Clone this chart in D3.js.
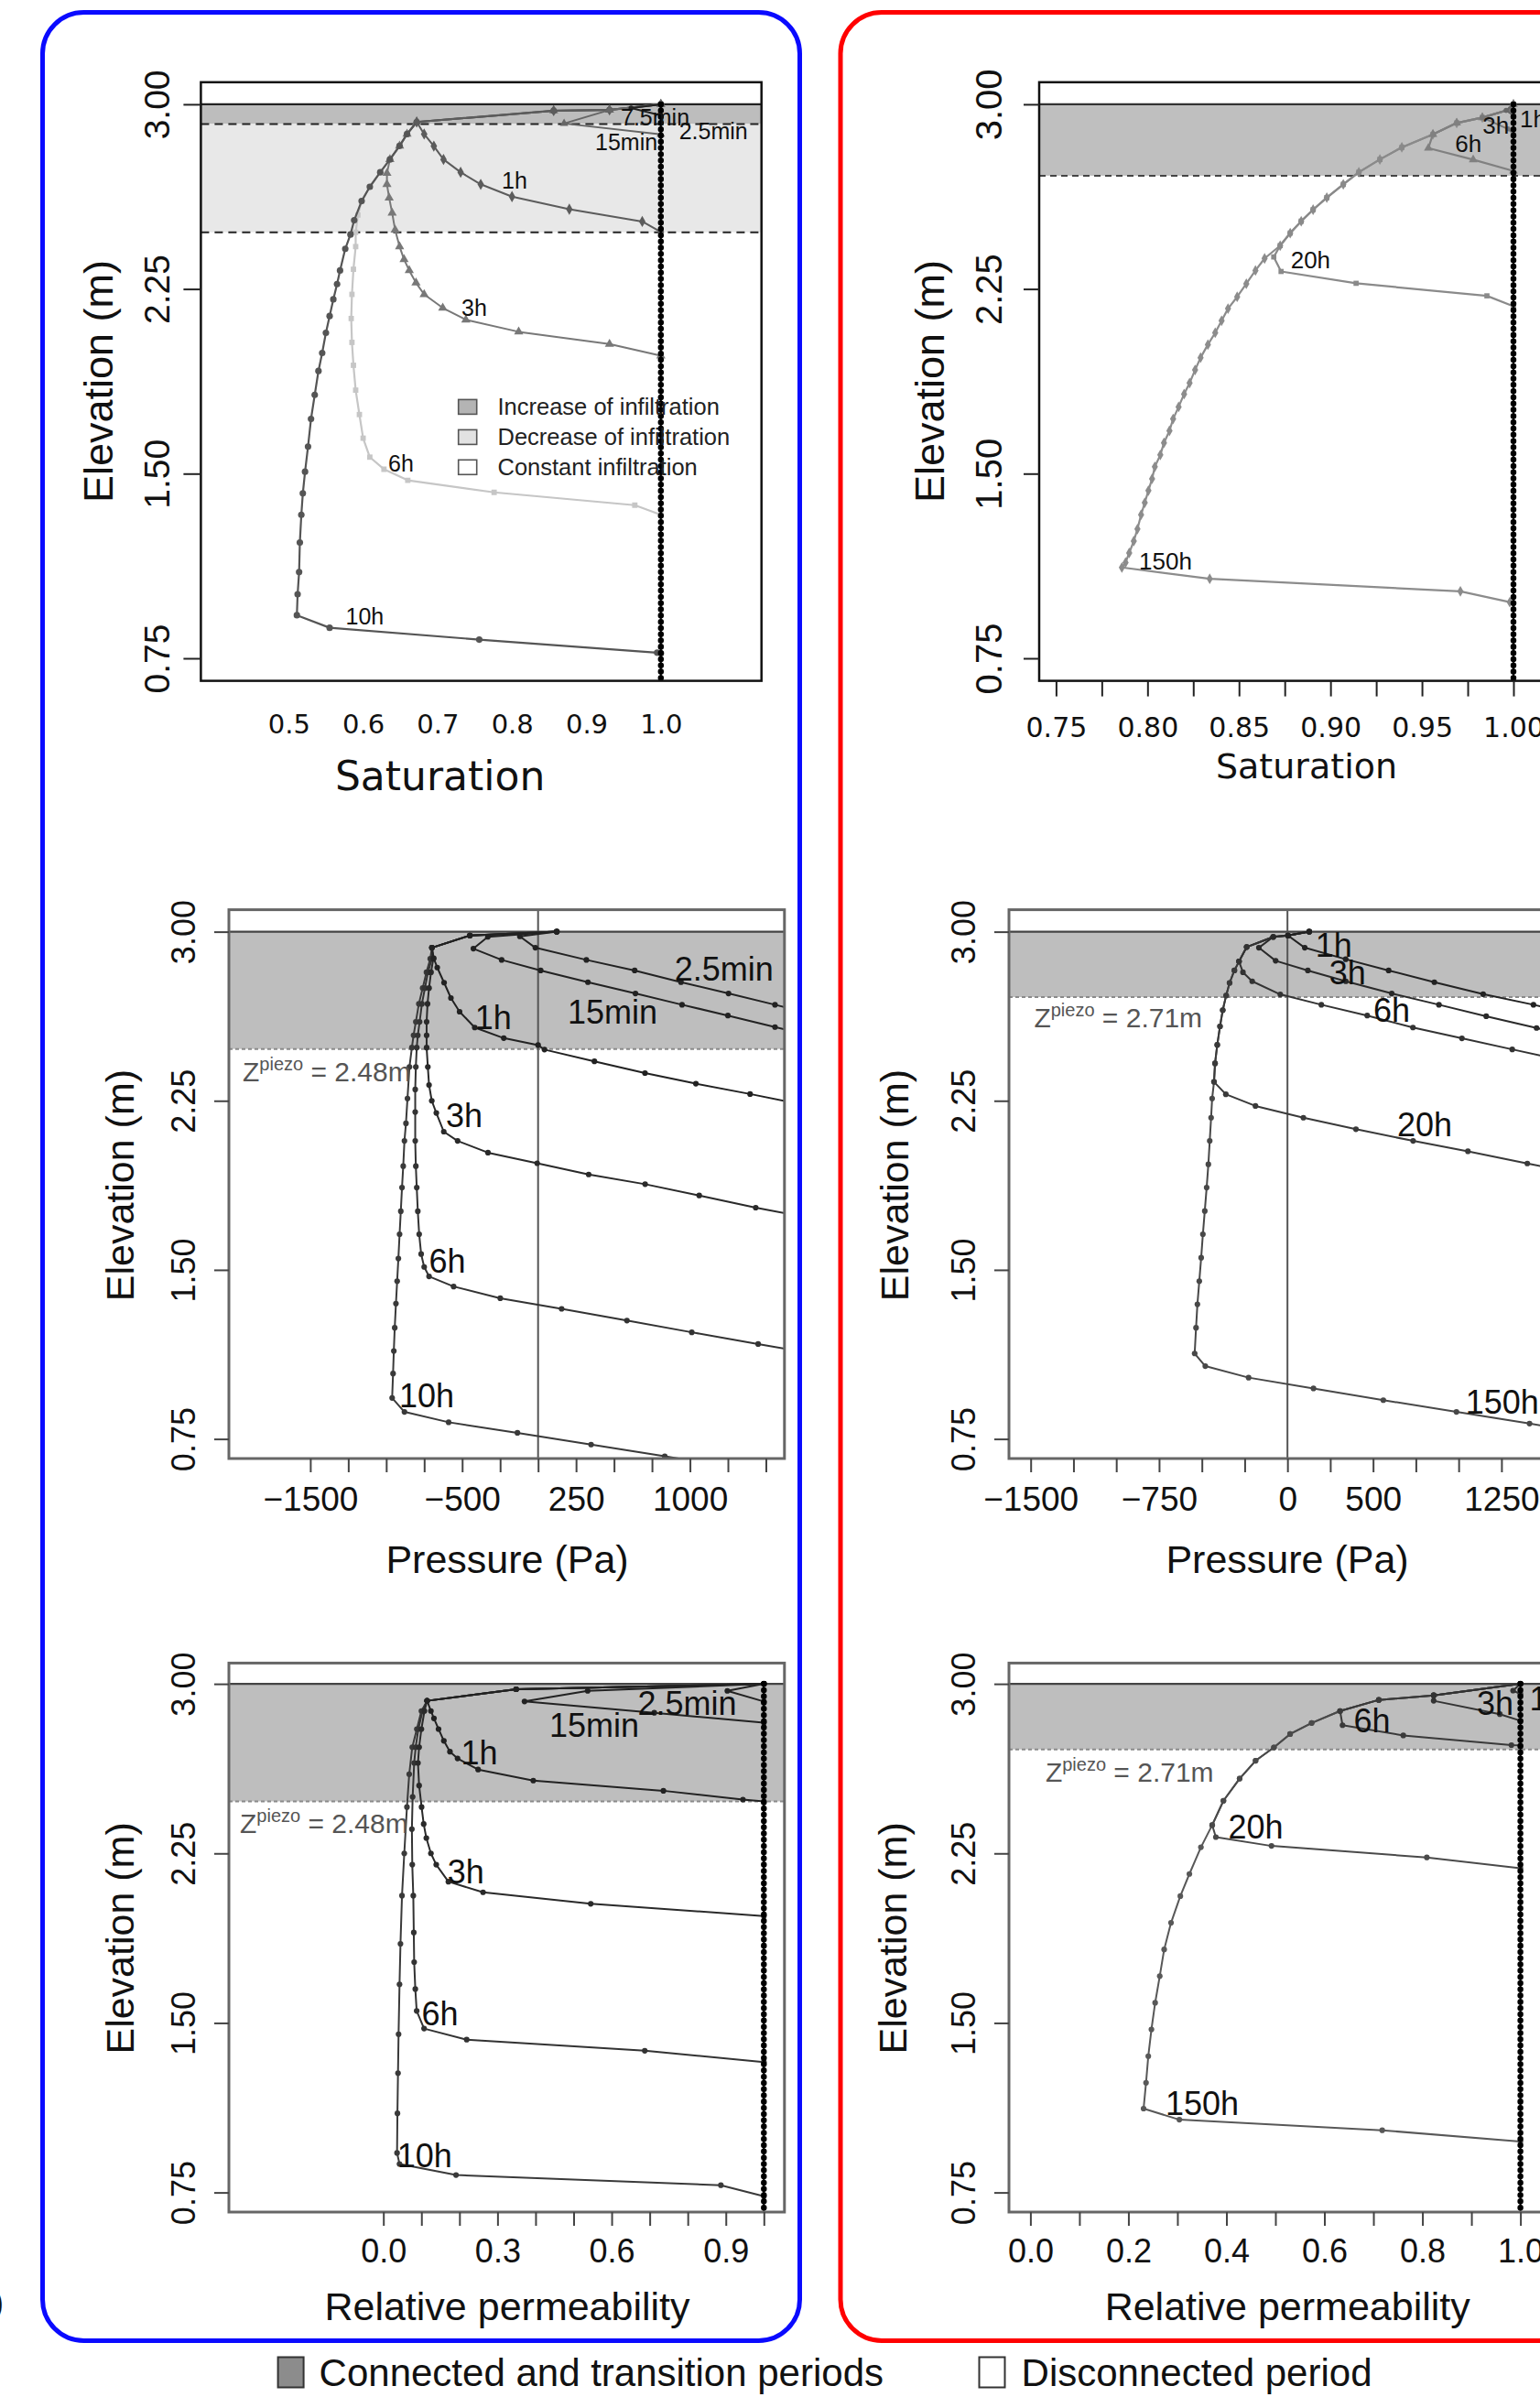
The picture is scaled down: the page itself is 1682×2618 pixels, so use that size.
<!DOCTYPE html>
<html><head><meta charset="utf-8">
<script src="https://cdn.jsdelivr.net/npm/d3@7"></script>
<style>body{margin:0;background:#fff} svg{display:block}</style>
</head><body>
<svg id="fig" width="1682" height="2618"></svg>
<script>
// ---------------- DATA ----------------
const ELEV_TICKS = [0.75, 1.50, 2.25, 3.00];
const SURFACE = 3.00;
const SAT_TRANSITION = 2.92;
const PIEZO_C = 2.48;
const PIEZO_D = 2.71;

const SAT_C_TICKS = [0.5, 0.6, 0.7, 0.8, 0.9, 1.0];
const SAT_C_LABELS = [0.5, 0.6, 0.7, 0.8, 0.9, 1.0];
const SAT_D_TICKS = [0.75, 0.775, 0.8, 0.825, 0.85, 0.875, 0.9, 0.925, 0.95, 0.975, 1.0];
const SAT_D_LABELS = [0.75, 0.8, 0.85, 0.9, 0.95, 1.0];
const P_TICKS = [-1500, -1250, -1000, -750, -500, -250, 0, 250, 500, 750, 1000, 1250, 1500];
const P_C_LABELS = [-1500, -500, 250, 1000];
const P_D_LABELS = [-1500, -750, 0, 500, 1250];
const KR_TICKS = [0, 0.1, 0.2, 0.3, 0.4, 0.5, 0.6, 0.7, 0.8, 0.9, 1.0];
const KR_C_LABELS = [0, 0.3, 0.6, 0.9];
const KR_D_LABELS = [0, 0.2, 0.4, 0.6, 0.8, 1.0];

const INIT_PROFILE = [[1.0, 3.0], [1.0, 0.65]];

// Saturation, connected
const satC_2_5min = [[1.0,3.0],[0.96,2.985],[1.0,2.955]];
const satC_7_5min = [[1.0,3.0],[0.931,2.977],[0.870,2.922],[1.0,2.878]];
const satC_top = [[1.0,3.0],[0.931,2.977],[0.856,2.974],[0.672,2.928]];
const satC_1h = [...satC_top,[0.682,2.879],[0.695,2.83],[0.708,2.776],[0.731,2.724],[0.758,2.675],[0.800,2.625],[0.877,2.574],[0.975,2.524],[1.0,2.481]];
const satC_3h = [...satC_top,[0.659,2.879],[0.649,2.831],[0.636,2.776],[0.632,2.72],[0.632,2.675],[0.635,2.62],[0.639,2.559],[0.643,2.49],[0.649,2.422],[0.655,2.37],[0.662,2.325],[0.671,2.275],[0.682,2.228],[0.707,2.173],[0.738,2.125],[0.809,2.076],[0.931,2.026],[1.0,1.979]];
const satC_6h = [...satC_top,[0.659,2.879],[0.649,2.831],[0.636,2.776],[0.623,2.724],[0.609,2.665],[0.598,2.607],[0.593,2.55],[0.590,2.48],[0.590,2.422],[0.587,2.33],[0.585,2.228],[0.584,2.13],[0.585,2.033],[0.587,1.94],[0.590,1.839],[0.595,1.74],[0.600,1.644],[0.609,1.567],[0.628,1.518],[0.660,1.473],[0.776,1.424],[0.965,1.372],[1.0,1.333]];
const satC_10h = [...satC_top,[0.659,2.879],[0.649,2.831],[0.636,2.776],[0.623,2.724],[0.609,2.665],[0.598,2.607],[0.588,2.529],[0.583,2.471],[0.576,2.413],[0.569,2.325],[0.565,2.27],[0.560,2.208],[0.555,2.14],[0.550,2.072],[0.545,1.99],[0.540,1.917],[0.535,1.82],[0.530,1.722],[0.526,1.61],[0.522,1.508],[0.519,1.42],[0.517,1.333],[0.515,1.22],[0.514,1.100],[0.512,1.01],[0.511,0.925],[0.555,0.874],[0.756,0.826],[0.995,0.773],[1.0,0.77]];

// Saturation, disconnected
const satD_top = [[1.0,3.0],[0.9985,2.98],[0.983,2.946],[0.969,2.924],[0.956,2.878]];
const satD_mid = [[0.939,2.825],[0.927,2.776],[0.9155,2.724],[0.907,2.675],[0.898,2.621],[0.8905,2.572],[0.884,2.525],[0.878,2.477],[0.8725,2.426]];
const satD_low = [[0.864,2.374],[0.859,2.325],[0.854,2.271],[0.849,2.218],[0.844,2.170],[0.8405,2.121],[0.837,2.072],[0.833,2.024],[0.829,1.971],[0.826,1.921],[0.823,1.868],[0.820,1.823],[0.817,1.771],[0.814,1.722],[0.812,1.674],[0.809,1.625],[0.807,1.576],[0.804,1.528],[0.8025,1.479],[0.8005,1.431],[0.7985,1.382],[0.7965,1.333],[0.7945,1.275],[0.7925,1.226],[0.790,1.178],[0.788,1.139],[0.786,1.119]];
const satD_1h = [[1.0,3.0],[0.996,2.975],[1.0,2.955]];
const satD_3h = [[1.0,3.0],[0.9985,2.98],[0.983,2.946],[0.997,2.90],[1.0,2.88]];
const satD_6h = [...satD_top,[0.9535,2.822],[0.978,2.775],[1.0,2.729]];
const satD_20h = [...satD_top,...satD_mid,[0.869,2.38],[0.873,2.321],[0.914,2.273],[0.9855,2.222],[1.0,2.18]];
const satD_150h = [...satD_top,...satD_mid,...satD_low,[0.834,1.073],[0.971,1.022],[0.998,0.978],[1.0,0.974]];

// Pressure, connected
const presC_top = [[123,3.0],[-449,2.983],[-699,2.929]];
const presC_2_5min = [[123,3.0],[-120,2.979],[-18,2.929],[318,2.875],[636,2.828],[941,2.776],[1254,2.726],[1560,2.676],[1750,2.645]];
const presC_15min = [[123,3.0],[-331,2.977],[-426,2.925],[-240,2.875],[17,2.828],[328,2.776],[641,2.726],[948,2.676],[1250,2.628],[1560,2.577],[1750,2.546]];
const presC_1h = [...presC_top,[-687,2.882],[-664,2.841],[-619,2.774],[-574,2.706],[-517,2.645],[-417,2.575],[-226,2.528],[0,2.497],[42,2.477],[371,2.425],[704,2.373],[1039,2.326],[1396,2.280],[1750,2.232]];
const presC_3h = [...presC_top,[-690,2.88],[-705,2.82],[-718,2.75],[-728,2.68],[-734,2.60],[-734,2.54],[-734,2.486],[-726,2.40],[-718,2.320],[-700,2.25],[-670,2.196],[-621,2.113],[-530,2.072],[-330,2.020],[-6,1.973],[333,1.923],[705,1.880],[1061,1.830],[1433,1.776],[1750,1.735]];
const presC_6h = [...presC_top,[-700,2.88],[-725,2.82],[-745,2.75],[-765,2.68],[-780,2.60],[-792,2.54],[-799,2.486],[-805,2.40],[-809,2.30],[-809,2.20],[-809,2.072],[-805,1.96],[-799,1.865],[-792,1.76],[-783,1.658],[-770,1.57],[-750,1.513],[-718,1.471],[-556,1.426],[-249,1.374],[155,1.327],[585,1.275],[1012,1.223],[1449,1.171],[1750,1.135]];
const presC_10h = [...presC_top,[-710,2.88],[-735,2.82],[-760,2.75],[-785,2.68],[-805,2.60],[-820,2.54],[-831,2.486],[-847,2.40],[-860,2.26],[-870,2.15],[-880,2.072],[-888,1.96],[-896,1.865],[-904,1.76],[-912,1.658],[-920,1.55],[-928,1.45],[-936,1.35],[-944,1.243],[-950,1.14],[-955,1.04],[-961,0.932],[-880,0.870],[-589,0.824],[-136,0.777],[349,0.725],[834,0.673],[1000,0.655]];

// Pressure, disconnected
const presD_top = [[127,3.0],[3,2.983],[-83,2.977]];
const presD_env1 = [[-238,2.932],[-283,2.868]];
const presD_env2 = [[-310,2.828],[-338,2.773],[-358,2.717],[-378,2.652],[-394,2.58],[-410,2.498],[-423,2.416],[-429,2.334]];
const presD_env3 = [[-440,2.26],[-446,2.175],[-454,2.072],[-462,1.968],[-472,1.865],[-483,1.761],[-494,1.658],[-504,1.554],[-515,1.450],[-526,1.347],[-534,1.243],[-542,1.129]];
const presD_1h = [[127,3.0],[3,2.983],[101,2.929],[340,2.878],[591,2.828],[858,2.776],[1143,2.723],[1437,2.676],[1750,2.625]];
const presD_3h = [...presD_top,[-167,2.929],[-69,2.871],[119,2.828],[341,2.780],[609,2.726],[885,2.676],[1161,2.625],[1455,2.573],[1750,2.52]];
const presD_6h = [...presD_top,...presD_env1,[-260,2.82],[-206,2.780],[-42,2.722],[198,2.676],[466,2.628],[733,2.575],[1019,2.527],[1313,2.478],[1750,2.405]];
const presD_20h = [...presD_top,...presD_env1,...presD_env2,[-360,2.279],[-187,2.227],[93,2.175],[400,2.124],[734,2.072],[1054,2.026],[1401,1.972],[1750,1.92]];
const presD_150h = [...presD_top,...presD_env1,...presD_env2,...presD_env3,[-480,1.073],[-227,1.022],[152,0.974],[560,0.922],[987,0.870],[1414,0.818],[1750,0.775]];

// Relative permeability, connected
const krC_top = [[1.0,3.0],[0.349,2.976],[0.115,2.925]];
const krC_2_5min = [[1.0,3.0],[0.904,2.969],[1.0,2.922]];
const krC_15min = [[1.0,3.0],[0.537,2.969],[0.371,2.922],[0.712,2.872],[1.0,2.828]];
const krC_1h = [...krC_top,[0.125,2.88],[0.133,2.847],[0.145,2.80],[0.159,2.748],[0.175,2.70],[0.195,2.670],[0.249,2.621],[0.394,2.572],[0.736,2.527],[0.945,2.488],[1.0,2.480]];
const krC_3h = [...krC_top,[0.108,2.88],[0.100,2.80],[0.094,2.72],[0.091,2.650],[0.094,2.55],[0.1005,2.455],[0.106,2.38],[0.113,2.318],[0.125,2.25],[0.139,2.200],[0.171,2.125],[0.262,2.078],[0.545,2.027],[1.0,1.973]];
const krC_6h = [...krC_top,[0.103,2.88],[0.092,2.80],[0.085,2.72],[0.081,2.650],[0.077,2.50],[0.075,2.357],[0.076,2.20],[0.0787,2.063],[0.080,1.90],[0.081,1.769],[0.084,1.65],[0.0876,1.553],[0.107,1.475],[0.219,1.426],[0.687,1.377],[1.0,1.327]];
const krC_10h = [...krC_top,[0.100,2.88],[0.088,2.80],[0.076,2.72],[0.068,2.60],[0.062,2.455],[0.055,2.25],[0.049,2.063],[0.045,1.85],[0.0425,1.671],[0.040,1.45],[0.0385,1.278],[0.037,1.10],[0.036,0.925],[0.0425,0.876],[0.191,0.827],[0.887,0.782],[1.0,0.733]];

// Relative permeability, disconnected
const krD_top = [[1.0,3.0],[0.823,2.949],[0.711,2.929],[0.632,2.880]];
const krD_mid = [[0.574,2.827],[0.530,2.778],[0.497,2.719],[0.4596,2.660],[0.427,2.581],[0.394,2.483],[0.371,2.375]];
const krD_low = [[0.348,2.277],[0.3245,2.159],[0.306,2.061],[0.287,1.943],[0.273,1.825],[0.264,1.707],[0.2546,1.589],[0.247,1.471],[0.2406,1.353],[0.236,1.235],[0.231,1.121]];
const krD_1h = [[1.0,3.0],[0.985,2.97],[1.0,2.955]];
const krD_3h = [[1.0,3.0],[0.823,2.949],[0.823,2.925],[0.958,2.866],[1.0,2.837]];
const krD_6h = [...krD_top,[0.637,2.817],[0.761,2.772],[0.9817,2.729],[1.0,2.728]];
const krD_20h = [...krD_top,...krD_mid,[0.3785,2.322],[0.492,2.283],[0.809,2.232],[1.0,2.184]];
const krD_150h = [...krD_top,...krD_mid,...krD_low,[0.304,1.072],[0.718,1.025],[1.0,0.975]];

const LEGEND_INNER = ["Increase of infiltration", "Decrease of infiltration", "Constant infiltration"];
const LEGEND_OUTER = ["Connected and transition periods", "Disconnected period"];

// ---------------- DRAWING ----------------
const FONT = "'Liberation Sans', Arial, Helvetica, sans-serif";
const DJ = "'DejaVu Sans', sans-serif";
const svg = d3.select('#fig');
svg.append('rect').attr('width', 1682).attr('height', 2618).attr('fill', '#fff');

const near = (arr, d) => arr.some(v => Math.abs(v - d) < 1e-9);

function drawPanel(c) {
  const x = d3.scaleLinear().domain(c.xd).range(c.xr);
  const y = d3.scaleLinear().domain([0.75, 3.0]).range(c.yr);
  const g = svg.append('g');
  const clipId = 'clip' + c.id;
  g.append('clipPath').attr('id', clipId).append('rect')
    .attr('x', c.bx0).attr('y', c.by0).attr('width', c.bx1 - c.bx0).attr('height', c.by1 - c.by0);
  const pg = g.append('g').attr('clip-path', `url(#${clipId})`);

  c.bands.forEach(b => pg.append('rect')
    .attr('x', c.bx0).attr('width', c.bx1 - c.bx0)
    .attr('y', y(b.top)).attr('height', y(b.bottom) - y(b.top)).attr('fill', b.fill));

  c.dashes.forEach(v => pg.append('line')
    .attr('x1', c.bx0).attr('x2', c.bx1).attr('y1', y(v)).attr('y2', y(v))
    .attr('stroke', c.dashColor).attr('stroke-width', 2).attr('stroke-dasharray', c.dashArray));

  pg.append('line').attr('x1', c.bx0).attr('x2', c.bx1).attr('y1', y(SURFACE)).attr('y2', y(SURFACE))
    .attr('stroke', c.surfColor).attr('stroke-width', 2.2);

  if (c.zeroLine) {
    pg.append('line').attr('x1', x(0)).attr('x2', x(0)).attr('y1', c.by0).attr('y2', c.by1)
      .attr('stroke', '#555').attr('stroke-width', 2);
  }

  const line = d3.line().x(d => x(d[0])).y(d => y(d[1]));
  c.curves.forEach(cv => {
    pg.append('path').datum(cv.data).attr('d', line).attr('fill', 'none')
      .attr('stroke', cv.color).attr('stroke-width', cv.w || 2).attr('stroke-linejoin', 'round');
    const sym = d3.symbol().type(cv.sym || d3.symbolCircle).size(cv.size || c.msize || 28);
    pg.append('g').selectAll('path').data(cv.data).join('path')
      .attr('transform', d => `translate(${x(d[0])},${y(d[1])})`)
      .attr('d', sym).attr('fill', cv.mcolor || cv.color);
  });

  if (c.init) {
    pg.append('path').datum(INIT_PROFILE).attr('d', line).attr('stroke', '#000').attr('stroke-width', 2);
    pg.append('path').datum(INIT_PROFILE).attr('d', line).attr('stroke', '#000').attr('stroke-width', 6.5)
      .attr('stroke-linecap', 'round').attr('stroke-dasharray', '0.01 6.8');
  }

  g.append('rect').attr('x', c.bx0).attr('y', c.by0).attr('width', c.bx1 - c.bx0).attr('height', c.by1 - c.by0)
    .attr('fill', 'none').attr('stroke', c.boxColor).attr('stroke-width', c.boxW);

  // Y axis
  const ya = g.append('g').attr('transform', `translate(${c.bx0},0)`)
    .call(d3.axisLeft(y).tickValues(ELEV_TICKS).tickSize(c.ytl).tickFormat(d3.format('.2f')));
  ya.select('.domain').remove();
  ya.attr('font-size', null).attr('font-family', null);
  ya.selectAll('line').attr('stroke', c.axisColor).attr('stroke-width', 2);
  ya.selectAll('text').attr('x', null).attr('dy', null)
    .attr('transform', `translate(${c.ylabX - c.bx0},0) rotate(-90)`)
    .attr('text-anchor', 'middle').attr('dominant-baseline', 'central')
    .attr('font-size', c.ylabFs).attr('font-family', FONT).attr('fill', '#111');
  g.append('text').text('Elevation (m)')
    .attr('transform', `translate(${c.ytitX},${c.ytitY}) rotate(-90)`)
    .attr('text-anchor', 'middle').attr('dominant-baseline', 'central')
    .attr('font-size', c.ytitFs).attr('font-family', FONT).attr('fill', '#111');

  // X axis
  const xa = g.append('g').attr('transform', `translate(0,${c.by1})`)
    .call(d3.axisBottom(x).tickValues(c.xticks).tickSize(c.xtl)
      .tickFormat(d => near(c.xlabels, d) ? c.xfmt(d) : ''));
  xa.select('.domain').remove();
  xa.attr('font-size', null).attr('font-family', null);
  xa.selectAll('line').attr('stroke', c.axisColor).attr('stroke-width', 2);
  xa.selectAll('text').attr('y', c.xlabY - c.by1).attr('dy', '0.35em')
    .attr('font-size', c.xlabFs).attr('font-family', c.xlabFont).attr('fill', '#111');
  g.append('text').text(c.xtitle).attr('x', c.xtitX).attr('y', c.xtitY)
    .attr('text-anchor', 'middle').attr('dominant-baseline', 'central')
    .attr('font-size', c.xtitFs).attr('font-family', c.xtitFont).attr('fill', '#111');

  // curve labels
  c.labels.forEach(l => g.append('text').text(l[0]).attr('x', l[1]).attr('y', l[2])
    .attr('dominant-baseline', 'central').attr('font-size', c.labFs)
    .attr('font-family', FONT).attr('fill', '#111'));

  if (c.zlab) {
    const t = g.append('text').attr('x', c.zlab.x).attr('y', c.zlab.cy + 11)
      .attr('font-family', FONT).attr('font-size', 30).attr('fill', '#555');
    t.append('tspan').text('Z');
    t.append('tspan').text('piezo').attr('font-size', 20).attr('dy', -12);
    t.append('tspan').text(' = ' + c.zlab.val).attr('dy', 12);
  }
  return {x, y, g};
}

const ELEV_YR_TOP = [719, 113.9];
const ELEV_YR_MID = [1571.6, 1017.6];
const ELEV_YR_BOT = [2394.6, 1839.1];

// Panel 1: saturation, connected
const p1 = drawPanel({
  id: 1, bx0: 219.4, bx1: 831.7, by0: 89.8, by1: 743.6,
  xd: [0.5, 1.0], xr: [315.3, 721.8], yr: ELEV_YR_TOP,
  bands: [{top: SURFACE, bottom: SAT_TRANSITION, fill: '#bdbdbd'}, {top: SAT_TRANSITION, bottom: PIEZO_C, fill: '#e8e8e8'}],
  dashes: [SAT_TRANSITION, PIEZO_C], dashColor: '#222', dashArray: '9,6', surfColor: '#222',
  boxColor: '#111', boxW: 2.5, axisColor: '#222',
  init: true,
  curves: [
    {data: satC_6h, color: '#c6c6c6', sym: d3.symbolSquare, size: 34, w: 2.2},
    {data: satC_3h, color: '#787878', sym: d3.symbolTriangle, size: 44, w: 2},
    {data: satC_10h, color: '#555', sym: d3.symbolCircle, size: 40, w: 2.2},
    {data: satC_1h, color: '#5c5c5c', sym: d3.symbolDiamond, size: 44, w: 2},
    {data: satC_7_5min, color: '#666', sym: d3.symbolTriangle, size: 36, w: 2},
    {data: satC_2_5min, color: '#222', sym: d3.symbolCircle, size: 24, w: 2}
  ],
  ytl: 19, ylabX: 171, ylabFs: 39, ytitX: 107, ytitY: 416.5, ytitFs: 45,
  xticks: SAT_C_TICKS, xlabels: SAT_C_LABELS, xtl: 0, xfmt: d3.format('.1f'),
  xlabY: 790.6, xlabFs: 29, xlabFont: DJ,
  xtitle: 'Saturation', xtitX: 480.6, xtitY: 847, xtitFs: 44, xtitFont: DJ,
  labFs: 25,
  labels: [["7.5min", 678, 128.3], ["2.5min", 741.7, 143.3], ["15min", 650, 155], ["1h", 548, 197], ["3h", 504, 336], ["6h", 424, 505.6], ["10h", 377.5, 673]]
});
// inner legend
const legFills = ['#b4b4b4', '#e2e2e2', '#ffffff'];
const legY = [444.4, 477.4, 510.3];
LEGEND_INNER.forEach((t, i) => {
  p1.g.append('rect').attr('x', 500.7).attr('y', legY[i] - 8).attr('width', 20).attr('height', 16)
    .attr('fill', legFills[i]).attr('stroke', '#555').attr('stroke-width', 1.6);
  p1.g.append('text').text(t).attr('x', 543.5).attr('y', legY[i]).attr('dominant-baseline', 'central')
    .attr('font-size', 25.5).attr('font-family', FONT).attr('fill', '#222');
});

// Panel 2: saturation, disconnected
drawPanel({
  id: 2, bx0: 1135, bx1: 1760, by0: 89.8, by1: 743.6,
  xd: [0.75, 1.0], xr: [1153.4, 1653], yr: ELEV_YR_TOP,
  bands: [{top: SURFACE, bottom: PIEZO_D, fill: '#bfbfbf'}],
  dashes: [PIEZO_D], dashColor: '#444', dashArray: '7,5', surfColor: '#333',
  boxColor: '#111', boxW: 2.5, axisColor: '#222',
  init: true,
  curves: [
    {data: satD_150h, color: '#8c8c8c', sym: d3.symbolDiamond, size: 40, w: 2.2},
    {data: satD_20h, color: '#8a8a8a', sym: d3.symbolSquare, size: 32, w: 2.2},
    {data: satD_6h, color: '#808080', sym: d3.symbolTriangle, size: 40, w: 2.2},
    {data: satD_3h, color: '#777', sym: d3.symbolCircle, size: 24, w: 2},
    {data: satD_1h, color: '#666', sym: d3.symbolCircle, size: 24, w: 2}
  ],
  ytl: 17, ylabX: 1079.5, ylabFs: 40, ytitX: 1015, ytitY: 416.5, ytitFs: 45,
  xticks: SAT_D_TICKS, xlabels: SAT_D_LABELS, xtl: 17, xfmt: d3.format('.2f'),
  xlabY: 794.8, xlabFs: 30, xlabFont: DJ,
  xtitle: 'Saturation', xtitX: 1427, xtitY: 837, xtitFs: 38, xtitFont: DJ,
  labFs: 26,
  labels: [["20h", 1409.7, 283.8], ["150h", 1244, 612.8], ["6h", 1589.3, 156.7], ["3h", 1619.3, 136.7], ["1h", 1660, 130]]
});

// Panel 3: pressure, connected
drawPanel({
  id: 3, bx0: 250, bx1: 856.8, by0: 993.6, by1: 1593,
  xd: [-1500, 1500], xr: [338.9, 836.5], yr: ELEV_YR_MID,
  bands: [{top: SURFACE, bottom: PIEZO_C, fill: '#bebebe'}],
  dashes: [PIEZO_C], dashColor: '#8a8a8a', dashArray: '4,3', surfColor: '#444',
  boxColor: '#666', boxW: 3, axisColor: '#444', zeroLine: true, msize: 30,
  curves: [
    {data: presC_10h, color: '#3a3a3a'}, {data: presC_6h, color: '#333'},
    {data: presC_3h, color: '#2a2a2a'}, {data: presC_1h, color: '#222'},
    {data: presC_15min, color: '#222'}, {data: presC_2_5min, color: '#222'}
  ],
  ytl: 16, ylabX: 200.7, ylabFs: 36, ytitX: 131, ytitY: 1294.6, ytitFs: 43,
  xticks: P_TICKS, xlabels: P_C_LABELS, xtl: 15, xfmt: d3.format('d'),
  xlabY: 1637.4, xlabFs: 37, xlabFont: FONT,
  xtitle: 'Pressure (Pa)', xtitX: 554, xtitY: 1703, xtitFs: 43, xtitFont: FONT,
  labFs: 36,
  labels: [["2.5min", 736.8, 1058], ["15min", 620, 1105], ["1h", 518.7, 1111.7], ["3h", 487, 1218], ["6h", 468.5, 1377], ["10h", 436, 1524]],
  zlab: {x: 265, cy: 1169.6, val: '2.48m'}
});

// Panel 4: pressure, disconnected
drawPanel({
  id: 4, bx0: 1102, bx1: 1760, by0: 993.6, by1: 1593,
  xd: [-1500, 1250], xr: [1125.7, 1639.9], yr: ELEV_YR_MID,
  bands: [{top: SURFACE, bottom: PIEZO_D, fill: '#bebebe'}],
  dashes: [PIEZO_D], dashColor: '#8a8a8a', dashArray: '4,3', surfColor: '#444',
  boxColor: '#666', boxW: 3, axisColor: '#444', zeroLine: true, msize: 30,
  curves: [
    {data: presD_150h, color: '#484848'}, {data: presD_20h, color: '#3a3a3a'},
    {data: presD_6h, color: '#333'}, {data: presD_3h, color: '#2a2a2a'}, {data: presD_1h, color: '#222'}
  ],
  ytl: 16, ylabX: 1052, ylabFs: 36, ytitX: 977.3, ytitY: 1294.6, ytitFs: 43,
  xticks: P_TICKS, xlabels: P_D_LABELS, xtl: 15, xfmt: d3.format('d'),
  xlabY: 1637.4, xlabFs: 37, xlabFont: FONT,
  xtitle: 'Pressure (Pa)', xtitX: 1406, xtitY: 1703, xtitFs: 43, xtitFont: FONT,
  labFs: 36,
  labels: [["1h", 1436.7, 1032.5], ["3h", 1451.7, 1062.5], ["6h", 1500, 1103.3], ["20h", 1526, 1228], ["150h", 1600.7, 1531.8]],
  zlab: {x: 1129.4, cy: 1111, val: '2.71m'}
});

// Panel 5: relative permeability, connected
drawPanel({
  id: 5, bx0: 250, bx1: 856.8, by0: 1816.4, by1: 2416,
  xd: [0, 1], xr: [418.7, 834.3], yr: ELEV_YR_BOT,
  bands: [{top: SURFACE, bottom: PIEZO_C, fill: '#bebebe'}],
  dashes: [PIEZO_C], dashColor: '#8a8a8a', dashArray: '4,3', surfColor: '#444',
  boxColor: '#666', boxW: 3, axisColor: '#444', init: true, msize: 30,
  curves: [
    {data: krC_10h, color: '#3a3a3a'}, {data: krC_6h, color: '#333'},
    {data: krC_3h, color: '#2a2a2a'}, {data: krC_1h, color: '#222'},
    {data: krC_15min, color: '#222'}, {data: krC_2_5min, color: '#222'}
  ],
  ytl: 16, ylabX: 200.7, ylabFs: 36, ytitX: 131, ytitY: 2116.9, ytitFs: 43,
  xticks: KR_TICKS, xlabels: KR_C_LABELS, xtl: 15, xfmt: d3.format('.1f'),
  xlabY: 2458.6, xlabFs: 36, xlabFont: FONT,
  xtitle: 'Relative permeability', xtitX: 554, xtitY: 2519, xtitFs: 43, xtitFont: FONT,
  labFs: 36,
  labels: [["2.5min", 696.4, 1860], ["15min", 600, 1884], ["1h", 503.6, 1914], ["3h", 488.8, 2044], ["6h", 460.5, 2199], ["10h", 433.7, 2354.4]],
  zlab: {x: 262, cy: 1990.9, val: '2.48m'}
});

// Panel 6: relative permeability, disconnected
drawPanel({
  id: 6, bx0: 1102, bx1: 1760, by0: 1816.4, by1: 2416,
  xd: [0, 1], xr: [1125.4, 1660.6], yr: ELEV_YR_BOT,
  bands: [{top: SURFACE, bottom: PIEZO_D, fill: '#bebebe'}],
  dashes: [PIEZO_D], dashColor: '#8a8a8a', dashArray: '4,3', surfColor: '#444',
  boxColor: '#666', boxW: 3, axisColor: '#444', init: true, msize: 30,
  curves: [
    {data: krD_150h, color: '#585858'}, {data: krD_20h, color: '#4a4a4a'},
    {data: krD_6h, color: '#3a3a3a'}, {data: krD_3h, color: '#333'}, {data: krD_1h, color: '#333'}
  ],
  ytl: 16, ylabX: 1052, ylabFs: 36, ytitX: 975, ytitY: 2116.9, ytitFs: 43,
  xticks: KR_TICKS, xlabels: KR_D_LABELS, xtl: 15, xfmt: d3.format('.1f'),
  xlabY: 2458.6, xlabFs: 36, xlabFont: FONT,
  xtitle: 'Relative permeability', xtitX: 1406.2, xtitY: 2519, xtitFs: 43, xtitFont: FONT,
  labFs: 36,
  labels: [["6h", 1478.5, 1879.4], ["3h", 1613, 1860], ["1h", 1670.6, 1855], ["20h", 1341.4, 1995.7], ["150h", 1273, 2297.7]],
  zlab: {x: 1141.9, cy: 1935.1, val: '2.71m'}
});

// Frames
svg.append('rect').attr('x', 46.5).attr('y', 13.5).attr('width', 827).attr('height', 2543).attr('rx', 45)
  .attr('fill', 'none').attr('stroke', '#0a0aff').attr('stroke-width', 5);
svg.append('rect').attr('x', 918).attr('y', 13.5).attr('width', 900).attr('height', 2543).attr('rx', 45)
  .attr('fill', 'none').attr('stroke', '#ff0000').attr('stroke-width', 5);

// Bottom legend
const outerFill = ['#8c8c8c', '#ffffff'];
const outerSqX = [303.6, 1069.5];
const outerTxtX = [348.6, 1115.6];
LEGEND_OUTER.forEach((t, i) => {
  svg.append('rect').attr('x', outerSqX[i]).attr('y', 2574.5).attr('width', 28).attr('height', 33)
    .attr('fill', outerFill[i]).attr('stroke', '#333').attr('stroke-width', 2);
  svg.append('text').text(t).attr('x', outerTxtX[i]).attr('y', 2591.3).attr('dominant-baseline', 'central')
    .attr('font-size', 42).attr('font-family', FONT).attr('fill', '#111');
});
svg.append('text').text(')').attr('x', -8).attr('y', 2527).attr('font-size', 36).attr('font-family', FONT).attr('fill', '#111');
</script>
</body></html>
